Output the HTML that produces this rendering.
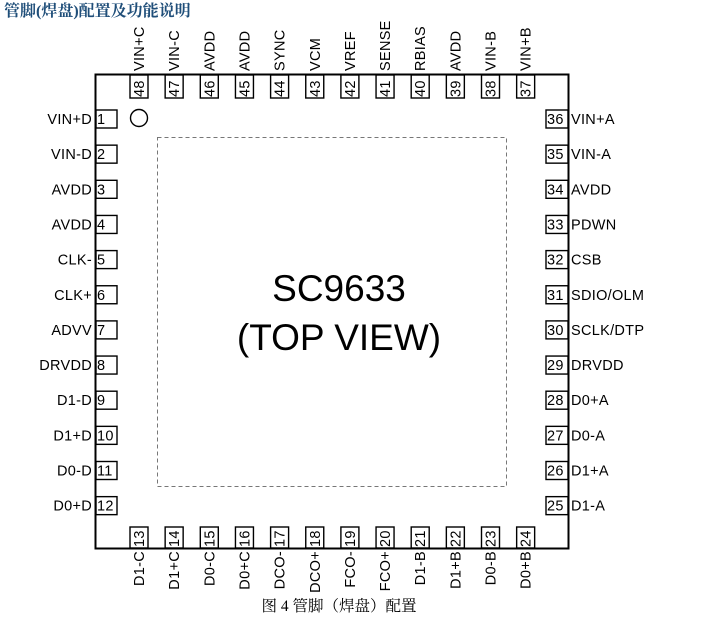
<!DOCTYPE html>
<html><head><meta charset="utf-8"><style>
body{margin:0;background:#fff;width:703px;height:627px;overflow:hidden}
svg{display:block}
text{font-family:"Liberation Sans","Noto Sans CJK SC",sans-serif;font-size:14.5px;fill:#000;letter-spacing:0.3px}
.t{font-family:"Liberation Serif","Noto Serif CJK SC",serif;font-weight:bold;font-size:16px;fill:#1f4e79;letter-spacing:0}
.c{font-family:"Liberation Serif","Noto Serif CJK SC",serif;font-size:15.5px;letter-spacing:0}
.big{font-size:37px;letter-spacing:0}
rect.p{fill:#fff;stroke:#000;stroke-width:1.4}
</style></head><body>
<svg width="703" height="627" viewBox="0 0 703 627">
<text class="t" x="4" y="16">管脚(焊盘)配置及功能说明</text>
<rect x="95.5" y="74.5" width="473" height="474" fill="none" stroke="#000" stroke-width="2"/>
<rect x="157.5" y="137.5" width="349" height="349" fill="none" stroke="#777" stroke-width="1" stroke-dasharray="4,3"/>
<circle cx="139" cy="118" r="8.5" fill="none" stroke="#000" stroke-width="1.4"/>
<text class="big" x="339" y="301" text-anchor="middle">SC9633</text>
<text class="big" x="339" y="350" text-anchor="middle">(TOP VIEW)</text>
<text class="c" x="339" y="611" text-anchor="middle">图 4 管脚（焊盘）配置</text>

<g>
<rect class="p" x="96" y="110" width="21" height="18"/><text x="97" y="124">1</text><text x="92" y="124" text-anchor="end">VIN+D</text>
<rect class="p" x="96" y="145.15" width="21" height="18"/><text x="97" y="159.15">2</text><text x="92" y="159.15" text-anchor="end">VIN-D</text>
<rect class="p" x="96" y="180.3" width="21" height="18"/><text x="97" y="194.3">3</text><text x="92" y="194.3" text-anchor="end">AVDD</text>
<rect class="p" x="96" y="215.45" width="21" height="18"/><text x="97" y="229.45">4</text><text x="92" y="229.45" text-anchor="end">AVDD</text>
<rect class="p" x="96" y="250.6" width="21" height="18"/><text x="97" y="264.6">5</text><text x="92" y="264.6" text-anchor="end">CLK-</text>
<rect class="p" x="96" y="285.75" width="21" height="18"/><text x="97" y="299.75">6</text><text x="92" y="299.75" text-anchor="end">CLK+</text>
<rect class="p" x="96" y="320.9" width="21" height="18"/><text x="97" y="334.9">7</text><text x="92" y="334.9" text-anchor="end">ADVV</text>
<rect class="p" x="96" y="356.05" width="21" height="18"/><text x="97" y="370.05">8</text><text x="92" y="370.05" text-anchor="end">DRVDD</text>
<rect class="p" x="96" y="391.2" width="21" height="18"/><text x="97" y="405.2">9</text><text x="92" y="405.2" text-anchor="end">D1-D</text>
<rect class="p" x="96" y="426.35" width="21" height="18"/><text x="97" y="440.35">10</text><text x="92" y="440.35" text-anchor="end">D1+D</text>
<rect class="p" x="96" y="461.5" width="21" height="18"/><text x="97" y="475.5">11</text><text x="92" y="475.5" text-anchor="end">D0-D</text>
<rect class="p" x="96" y="496.65" width="21" height="18"/><text x="97" y="510.65">12</text><text x="92" y="510.65" text-anchor="end">D0+D</text>
</g>
<g>
<rect class="p" x="546" y="110" width="22" height="18"/><text x="547" y="124">36</text><text x="571" y="124">VIN+A</text>
<rect class="p" x="546" y="145.15" width="22" height="18"/><text x="547" y="159.15">35</text><text x="571" y="159.15">VIN-A</text>
<rect class="p" x="546" y="180.3" width="22" height="18"/><text x="547" y="194.3">34</text><text x="571" y="194.3">AVDD</text>
<rect class="p" x="546" y="215.45" width="22" height="18"/><text x="547" y="229.45">33</text><text x="571" y="229.45">PDWN</text>
<rect class="p" x="546" y="250.6" width="22" height="18"/><text x="547" y="264.6">32</text><text x="571" y="264.6">CSB</text>
<rect class="p" x="546" y="285.75" width="22" height="18"/><text x="547" y="299.75">31</text><text x="571" y="299.75">SDIO/OLM</text>
<rect class="p" x="546" y="320.9" width="22" height="18"/><text x="547" y="334.9">30</text><text x="571" y="334.9">SCLK/DTP</text>
<rect class="p" x="546" y="356.05" width="22" height="18"/><text x="547" y="370.05">29</text><text x="571" y="370.05">DRVDD</text>
<rect class="p" x="546" y="391.2" width="22" height="18"/><text x="547" y="405.2">28</text><text x="571" y="405.2">D0+A</text>
<rect class="p" x="546" y="426.35" width="22" height="18"/><text x="547" y="440.35">27</text><text x="571" y="440.35">D0-A</text>
<rect class="p" x="546" y="461.5" width="22" height="18"/><text x="547" y="475.5">26</text><text x="571" y="475.5">D1+A</text>
<rect class="p" x="546" y="496.65" width="22" height="18"/><text x="547" y="510.65">25</text><text x="571" y="510.65">D1-A</text>
</g>
<g>
<rect class="p" x="130" y="75" width="18" height="23"/><text transform="translate(144,97) rotate(-90)">48</text><text transform="translate(144,71) rotate(-90)">VIN+C</text>
<rect class="p" x="165.15" y="75" width="18" height="23"/><text transform="translate(179.15,97) rotate(-90)">47</text><text transform="translate(179.15,71) rotate(-90)">VIN-C</text>
<rect class="p" x="200.3" y="75" width="18" height="23"/><text transform="translate(214.3,97) rotate(-90)">46</text><text transform="translate(214.3,71) rotate(-90)">AVDD</text>
<rect class="p" x="235.45" y="75" width="18" height="23"/><text transform="translate(249.45,97) rotate(-90)">45</text><text transform="translate(249.45,71) rotate(-90)">AVDD</text>
<rect class="p" x="270.6" y="75" width="18" height="23"/><text transform="translate(284.6,97) rotate(-90)">44</text><text transform="translate(284.6,71) rotate(-90)">SYNC</text>
<rect class="p" x="305.75" y="75" width="18" height="23"/><text transform="translate(319.75,97) rotate(-90)">43</text><text transform="translate(319.75,71) rotate(-90)">VCM</text>
<rect class="p" x="340.9" y="75" width="18" height="23"/><text transform="translate(354.9,97) rotate(-90)">42</text><text transform="translate(354.9,71) rotate(-90)">VREF</text>
<rect class="p" x="376.05" y="75" width="18" height="23"/><text transform="translate(390.05,97) rotate(-90)">41</text><text transform="translate(390.05,71) rotate(-90)">SENSE</text>
<rect class="p" x="411.2" y="75" width="18" height="23"/><text transform="translate(425.2,97) rotate(-90)">40</text><text transform="translate(425.2,71) rotate(-90)">RBIAS</text>
<rect class="p" x="446.35" y="75" width="18" height="23"/><text transform="translate(460.35,97) rotate(-90)">39</text><text transform="translate(460.35,71) rotate(-90)">AVDD</text>
<rect class="p" x="481.5" y="75" width="18" height="23"/><text transform="translate(495.5,97) rotate(-90)">38</text><text transform="translate(495.5,71) rotate(-90)">VIN-B</text>
<rect class="p" x="516.65" y="75" width="18" height="23"/><text transform="translate(530.65,97) rotate(-90)">37</text><text transform="translate(530.65,71) rotate(-90)">VIN+B</text>
</g>
<g>
<rect class="p" x="130" y="527" width="18" height="21"/><text transform="translate(144,547) rotate(-90)">13</text><text transform="translate(144,551) rotate(-90)" text-anchor="end">D1-C</text>
<rect class="p" x="165.15" y="527" width="18" height="21"/><text transform="translate(179.15,547) rotate(-90)">14</text><text transform="translate(179.15,551) rotate(-90)" text-anchor="end">D1+C</text>
<rect class="p" x="200.3" y="527" width="18" height="21"/><text transform="translate(214.3,547) rotate(-90)">15</text><text transform="translate(214.3,551) rotate(-90)" text-anchor="end">D0-C</text>
<rect class="p" x="235.45" y="527" width="18" height="21"/><text transform="translate(249.45,547) rotate(-90)">16</text><text transform="translate(249.45,551) rotate(-90)" text-anchor="end">D0+C</text>
<rect class="p" x="270.6" y="527" width="18" height="21"/><text transform="translate(284.6,547) rotate(-90)">17</text><text transform="translate(284.6,551) rotate(-90)" text-anchor="end">DCO-</text>
<rect class="p" x="305.75" y="527" width="18" height="21"/><text transform="translate(319.75,547) rotate(-90)">18</text><text transform="translate(319.75,551) rotate(-90)" text-anchor="end">DCO+</text>
<rect class="p" x="340.9" y="527" width="18" height="21"/><text transform="translate(354.9,547) rotate(-90)">19</text><text transform="translate(354.9,551) rotate(-90)" text-anchor="end">FCO-</text>
<rect class="p" x="376.05" y="527" width="18" height="21"/><text transform="translate(390.05,547) rotate(-90)">20</text><text transform="translate(390.05,551) rotate(-90)" text-anchor="end">FCO+</text>
<rect class="p" x="411.2" y="527" width="18" height="21"/><text transform="translate(425.2,547) rotate(-90)">21</text><text transform="translate(425.2,551) rotate(-90)" text-anchor="end">D1-B</text>
<rect class="p" x="446.35" y="527" width="18" height="21"/><text transform="translate(460.35,547) rotate(-90)">22</text><text transform="translate(460.35,551) rotate(-90)" text-anchor="end">D1+B</text>
<rect class="p" x="481.5" y="527" width="18" height="21"/><text transform="translate(495.5,547) rotate(-90)">23</text><text transform="translate(495.5,551) rotate(-90)" text-anchor="end">D0-B</text>
<rect class="p" x="516.65" y="527" width="18" height="21"/><text transform="translate(530.65,547) rotate(-90)">24</text><text transform="translate(530.65,551) rotate(-90)" text-anchor="end">D0+B</text>
</g>
</svg>
</body></html>
